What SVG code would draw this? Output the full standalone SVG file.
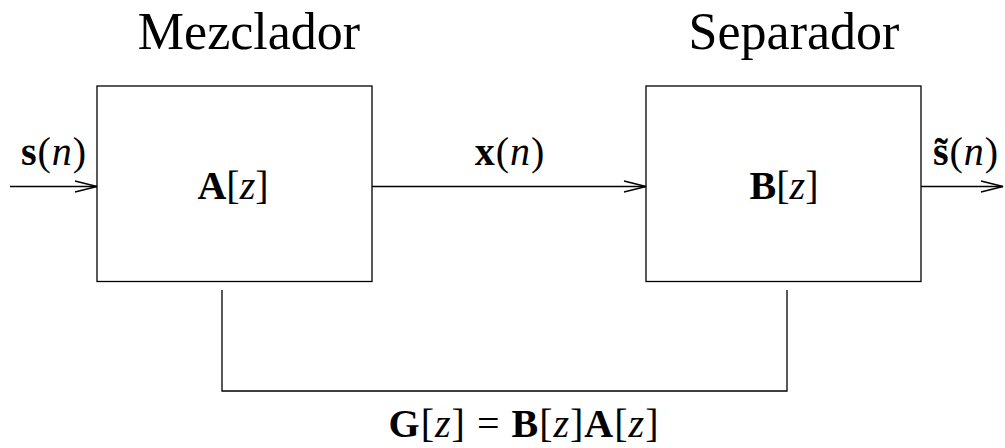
<svg xmlns="http://www.w3.org/2000/svg" width="1005" height="448" viewBox="0 0 1005 448">
<defs>
<style>
.box{fill:none;stroke:#000;stroke-width:1.3}
.ln{fill:none;stroke:#000;stroke-width:1.3}
.t{font-family:"Liberation Serif","DejaVu Serif",serif;fill:#000}
.title{font-size:52px}
.m{font-size:40px}
.b{font-weight:bold;font-style:normal}
.i{font-style:italic}
</style>
<marker id="ah" viewBox="0 0 24 14" refX="23" refY="7" markerWidth="24" markerHeight="14" markerUnits="userSpaceOnUse" orient="auto">
<path d="M1,1.5 L23,7 L1,12.5" fill="none" stroke="#000" stroke-width="1.3"/>
</marker>
</defs>
<rect width="1005" height="448" fill="#fff"/>
<g id="mezclador">
<rect class="box" x="97" y="86" width="275" height="195.5"/>
<text class="t title" x="249" y="49" text-anchor="middle">Mezclador</text>
<text class="t m" x="233" y="199" text-anchor="middle"><tspan class="b">A</tspan>[<tspan class="i">z</tspan>]</text>
</g>
<g id="separador">
<rect class="box" x="646" y="86" width="275" height="195.5"/>
<text class="t title" x="794" y="49" text-anchor="middle">Separador</text>
<text class="t m" x="784" y="199" text-anchor="middle"><tspan class="b">B</tspan>[<tspan class="i">z</tspan>]</text>
</g>
<g id="connectors">
<line class="ln" x1="10" y1="186.5" x2="97" y2="186.5" marker-end="url(#ah)"/>
<line class="ln" x1="372" y1="186.5" x2="646" y2="186.5" marker-end="url(#ah)"/>
<line class="ln" x1="921" y1="186.5" x2="1003" y2="186.5" marker-end="url(#ah)"/>
<polyline class="ln" points="222,290 222,391 787,391 787,290"/>
</g>
<g id="labels">
<text class="t m" x="54" y="165" text-anchor="middle" letter-spacing="1"><tspan class="b">s</tspan>(<tspan class="i">n</tspan>)</text>
<text class="t m" x="510" y="165" text-anchor="middle" letter-spacing="1"><tspan class="b">x</tspan>(<tspan class="i">n</tspan>)</text>
<text class="t m" x="966" y="165" text-anchor="middle" letter-spacing="1"><tspan class="b">s̃</tspan>(<tspan class="i">n</tspan>)</text>
<text class="t m" x="524" y="437" text-anchor="middle" letter-spacing="1"><tspan class="b">G</tspan>[<tspan class="i">z</tspan>] <tspan>=</tspan> <tspan class="b">B</tspan>[<tspan class="i">z</tspan>]<tspan class="b">A</tspan>[<tspan class="i">z</tspan>]</text>
</g>
</svg>
